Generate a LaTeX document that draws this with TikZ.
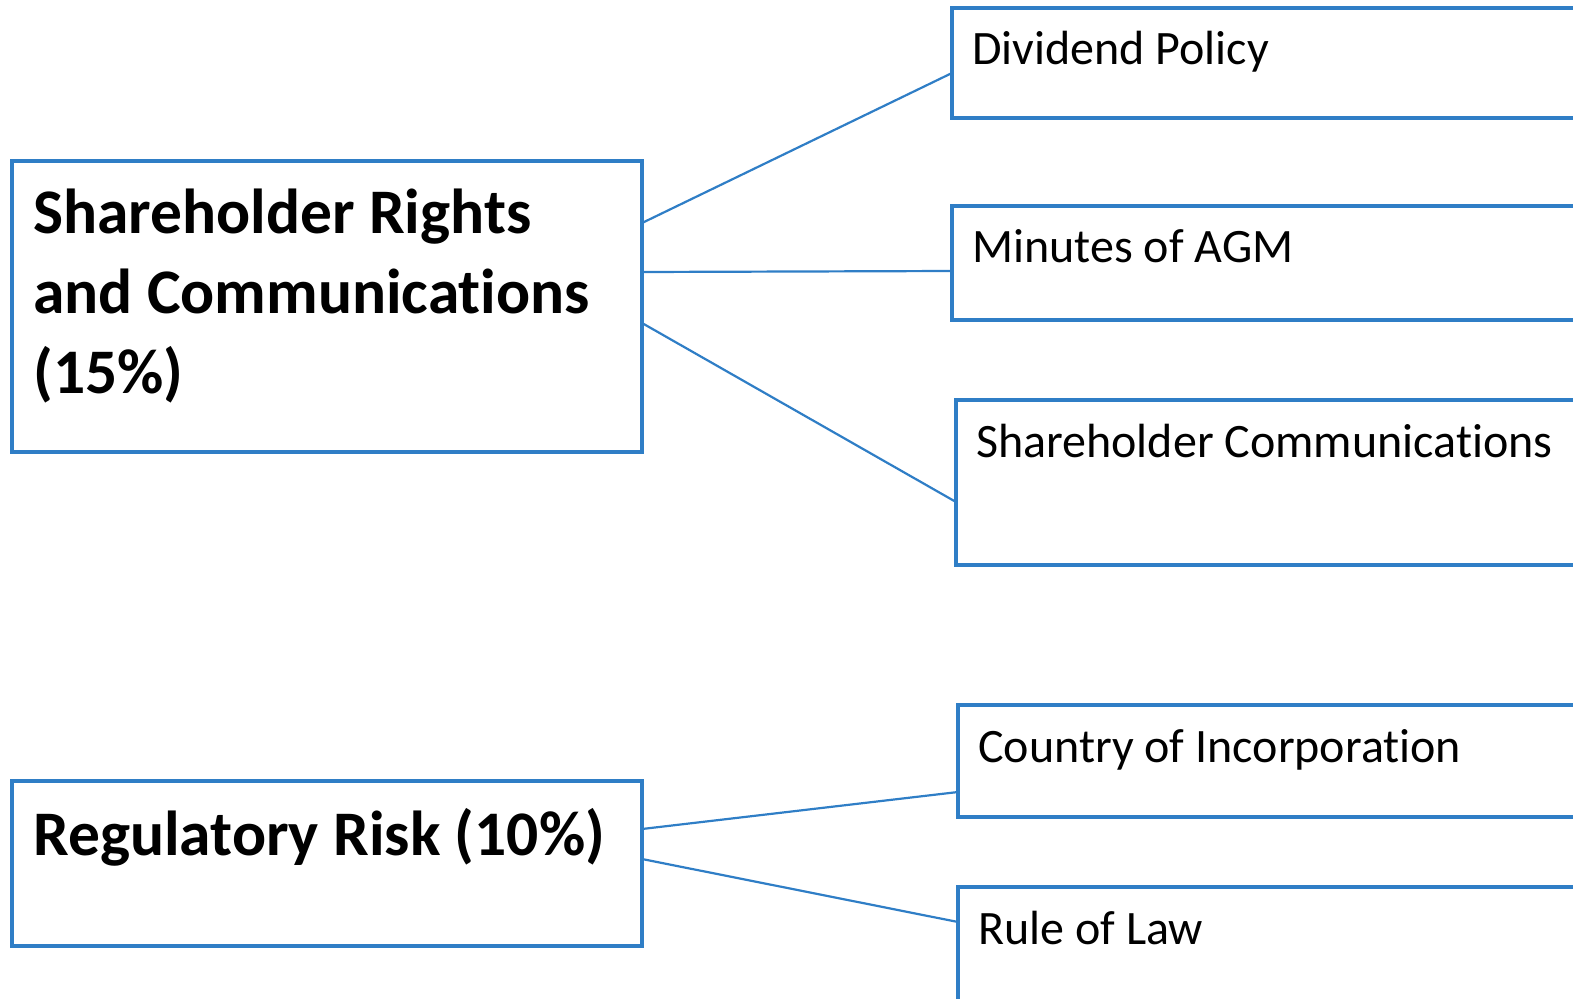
\documentclass[tikz,border=0pt]{standalone}
\usepackage{fontspec}
\setmainfont{Carlito}[Ligatures=NoCommon]
\definecolor{boxblue}{RGB}{47,126,198}
\begin{document}
\begin{tikzpicture}[x=1pt,y=-1pt,
  box/.style={draw=boxblue,line width=3.5pt,anchor=north west,inner sep=0pt,outer sep=0pt},
  link/.style={draw=boxblue,line width=2.2pt},
  head/.style={anchor=base west,inner sep=0pt,align=left,font=\fontsize{63.5}{80}\selectfont\bfseries},
  item/.style={anchor=base west,inner sep=0pt,font=\fontsize{48}{57}\selectfont}]

\useasboundingbox (0,0) rectangle (1573,998);

% main boxes
\node (rights) at (12,161) [box,minimum width=630pt,minimum height=291pt] {};
\node (risk) at (12,781) [box,minimum width=630pt,minimum height=165pt] {};

% base of a multi-line node is its last line
\node (rights-t) at (33,393) [head] {Shareholder Rights\\and Communications\\(15\%)};
\node (risk-t) at (33,855) [head] {Regulatory Risk (10\%)};

% sub boxes (run off the right edge)
\node (div) at (952,8) [box,minimum width=700pt,minimum height=110pt] {};
\node (agm) at (952,206) [box,minimum width=700pt,minimum height=114pt] {};
\node (comm) at (956,400) [box,minimum width=700pt,minimum height=165pt] {};
\node (inc) at (958,705) [box,minimum width=700pt,minimum height=112pt] {};
\node (law) at (958,887) [box,minimum width=700pt,minimum height=200pt] {};

\node (div-t) at (972,64) [item] {Dividend Policy};
\node (agm-t) at (972,262) [item] {Minutes of AGM};
\node (comm-t) at (976,457) [item] {Shareholder Communications};
\node (inc-t) at (978,762) [item] {Country of Incorporation};
\node (law-t) at (978,944) [item] {Rule of Law};

% links
\draw [link] ([yshift=83.5pt]rights.east) -- ([yshift=-10pt]div.west);
\draw [link] ([yshift=34.5pt]rights.east) -- ([yshift=-8pt]agm.west);
\draw [link] ([yshift=-16.5pt]rights.east) -- ([yshift=-19.5pt]comm.west);
\draw [link] ([yshift=34.5pt]risk.east) -- ([yshift=-31pt]inc.west);
\draw [link] ([yshift=4.5pt]risk.east) -- ([yshift=65pt]law.west);

\end{tikzpicture}
\end{document}
